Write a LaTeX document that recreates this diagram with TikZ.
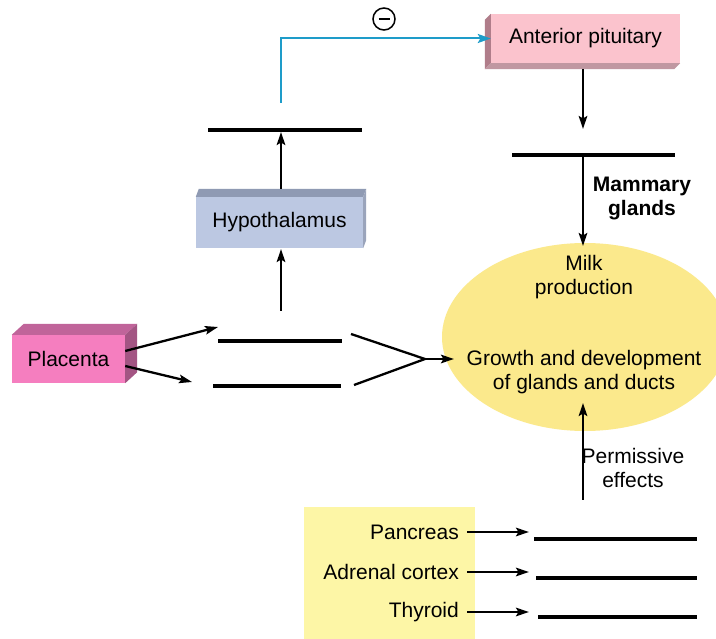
\documentclass[tikz,border=0pt]{standalone}
\usepackage{fontspec}
\setmainfont{Liberation Sans}
\usetikzlibrary{arrows.meta}
\definecolor{plfront}{HTML}{F57EBF}
\definecolor{plside}{HTML}{C0649A}
\definecolor{apfront}{HTML}{FBC3CD}
\definecolor{apside}{HTML}{B07D8A}
\definecolor{hyfront}{HTML}{BCC8E2}
\definecolor{hyside}{HTML}{8F9AB3}
\definecolor{ellyel}{HTML}{FBE98C}
\definecolor{boxyel}{HTML}{FDF6A6}
\definecolor{inhib}{HTML}{1E9CC9}
\tikzset{
  txt/.style={font=\fontsize{21}{24}\selectfont, align=center, inner sep=0pt},
  boxtxt/.style={txt, minimum width=#1, minimum height=48pt},
  arr/.style={line width=2.3pt, -{Stealth[length=13pt,width=8.5pt,inset=2.5pt]}},
  bar/.style={line width=3.1pt},
  vline/.style={line width=2.3pt},
}
\begin{document}
\begin{tikzpicture}[x=1pt,y=-1pt]
\useasboundingbox (0,0) rectangle (716,639);
\clip (0,0) rectangle (716,639);
\fill[white] (0,0) rectangle (716,639);

% ellipse and yellow box
\fill[ellyel] (585,337) ellipse [x radius=143, y radius=94];
\fill[boxyel] (304,507) rectangle (475,640);

% Placenta box
\node[boxtxt=113pt, fill=plfront, minimum height=48pt] (pl) at (68.5,359) {Placenta};
\fill[plside] (pl.north west) -- ++(12,-11) -- ([xshift=12pt,yshift=11pt]pl.north east) -- (pl.north east) -- cycle;
\fill[plside!85!black] (pl.north east) -- ++(12,-11) -- ([xshift=12pt,yshift=11pt]pl.south east) -- (pl.south east) -- cycle;

% Anterior pituitary box
\node[boxtxt=189pt, fill=apfront, minimum height=49pt] (ap) at (585.5,38.5) {Anterior pituitary};
\fill[apside] (ap.north west) -- ++(-6,6) -- ([xshift=-6pt,yshift=-6pt]ap.south west) -- (ap.south west) -- cycle;
\fill[apside!80!white] (ap.south west) -- ++(-6,6) -- ([xshift=-6pt,yshift=-6pt]ap.south east) -- (ap.south east) -- cycle;

% Hypothalamus box
\node[boxtxt=167pt, fill=hyfront, minimum height=51pt] (hy) at (279.5,222.5) {Hypothalamus};
\fill[hyside] (hy.north west) -- ++(3,-8) -- ([xshift=3pt,yshift=8pt]hy.north east) -- (hy.north east) -- cycle;
\fill[hyside!90!white] (hy.north east) -- ++(3,-8) -- ([xshift=3pt,yshift=8pt]hy.south east) -- (hy.south east) -- cycle;

% bars
\coordinate (t1l) at (208,130); \coordinate (t1r) at (362,130);
\coordinate (t2l) at (512,155); \coordinate (t2r) at (675,155);
\coordinate (m1l) at (218,341); \coordinate (m1r) at (342,341);
\coordinate (m2l) at (213,386); \coordinate (m2r) at (341,386);
\coordinate (p1l) at (534,539); \coordinate (p1r) at (697,539);
\coordinate (p2l) at (536,578); \coordinate (p2r) at (697,578);
\coordinate (p3l) at (538,617); \coordinate (p3r) at (697,617);
\foreach \a in {t1,t2,m1,m2,p1,p2,p3} \draw[bar] (\a l) -- (\a r);

% blue inhibitory feedback
\coordinate (fb) at (281,103);
\draw[line width=2pt, inhib, -{Stealth[length=13pt,width=9pt,inset=2.5pt]}] (fb) |- (ap.west);
\node[circle, draw, line width=1.5pt, minimum size=22pt, inner sep=0pt] (minus) at (384,19) {};
\draw[line width=2.4pt] ([xshift=-5.5pt]minus.center) -- ([xshift=5.5pt]minus.center);

% hypothalamus arrows
\coordinate (hytop) at (281,189);
\coordinate (hybot) at (281,249);
\coordinate (hyin) at (281,311);
\coordinate (t1a) at (281,132);
\draw[arr] (hytop) -- (t1a);
\draw[arr] (hyin) -- (hybot);

% placenta arrows
\coordinate (pa1) at (218,327);
\coordinate (pa2) at (192,382);
\draw[arr] ([yshift=8pt]pl.east) -- (pa1);
\draw[arr] ([yshift=-7pt]pl.east) -- (pa2);

% V convergence
\coordinate (v1) at (351,334);
\coordinate (v2) at (354,385);
\coordinate (vm) at (425,359);
\coordinate (vend) at (454,359);
\draw[vline] (v1) -- (vm) -- (v2);
\draw[arr] (vm) -- (vend);

% anterior pituitary down
\coordinate (apout) at (583,69);
\coordinate (t2a) at (583,129);
\draw[arr] (apout) -- (t2a);
\coordinate (t2s) at (583,157);
\coordinate (ellt) at (583,246);
\draw[arr] (t2s) -- (ellt);
\node[txt, font=\fontsize{21}{24}\selectfont\bfseries] (mam) at (642,199) {Mammary\\glands};

% ellipse texts
\node[txt] (milk) at (584,277) {Milk\\production};
\node[txt] (grow) at (584,372) {Growth and development\\of glands and ducts};

% permissive
\coordinate (perm0) at (583,500);
\coordinate (ellb) at (583,403);
\draw[arr] (perm0) -- (ellb);
\node[txt] (permt) at (633,468) {Permissive\\effects};

% glands
\node[txt, anchor=east] (pan) at (459,532) {Pancreas};
\node[txt, anchor=east] (adr) at (459,572) {Adrenal cortex};
\node[txt, anchor=east] (thy) at (459,612) {Thyroid};
\coordinate (pa) at (529,532);
\coordinate (aa) at (529,572);
\coordinate (ta) at (529,612);
\draw[arr] ([xshift=8pt]pan.east) -- (pa);
\draw[arr] ([xshift=8pt]adr.east) -- (aa);
\draw[arr] ([xshift=8pt]thy.east) -- (ta);
\end{tikzpicture}
\end{document}
